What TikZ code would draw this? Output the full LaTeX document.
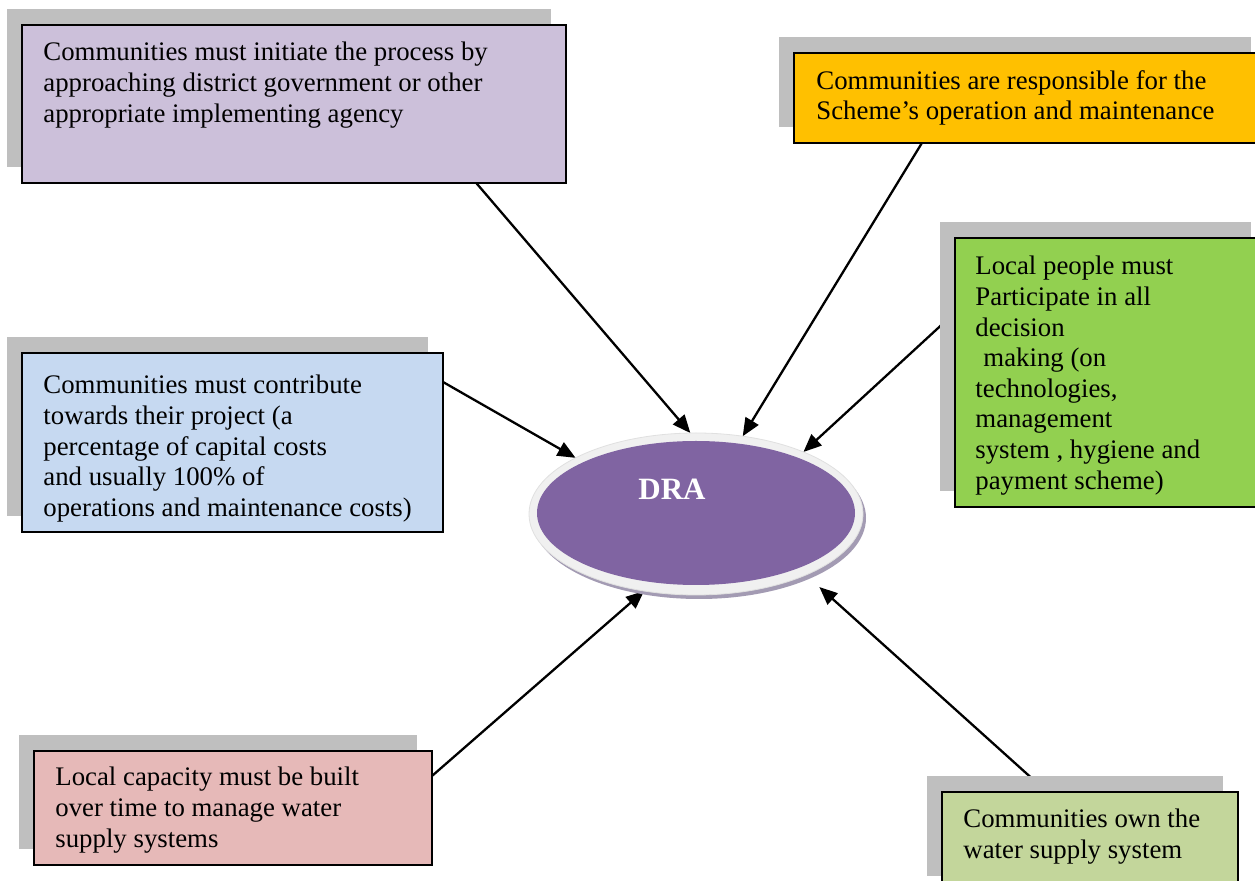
\documentclass[tikz,border=0pt]{standalone}
\usepackage{fontspec}
\setmainfont{Liberation Serif}
\usetikzlibrary{shapes.geometric,shadows,arrows.meta,calc}
\pgfdeclarelayer{background}
\pgfsetlayers{background,main}
\definecolor{cpurple}{HTML}{CCC0DA}
\definecolor{corange}{HTML}{FFC000}
\definecolor{cgreen}{HTML}{92D050}
\definecolor{cblue}{HTML}{C6D9F1}
\definecolor{cpink}{HTML}{E6B9B8}
\definecolor{colive}{HTML}{C3D69B}
\definecolor{shadowgray}{HTML}{BFBFBF}
\definecolor{draviolet}{HTML}{8064A2}
\definecolor{ringgray}{HTML}{F0F0F0}
\definecolor{ringshadow}{HTML}{A39BB3}
\begin{document}
\begin{tikzpicture}[x=0.5pt,y=-0.5pt,
  box/.style={draw=black, line width=0.75pt, rectangle, inner sep=0pt, outer sep=0pt, anchor=north west,
     drop shadow={shadow xshift=-7.5pt, shadow yshift=8pt, fill=shadowgray, opacity=1}},
  txt/.style={anchor=north west, inner sep=0pt, align=left, font=\fontsize{13.4pt}{15.3pt}\selectfont},
  conn/.style={line width=1.15pt, -{Triangle[length=9pt,width=7.5pt]}}]
\useasboundingbox (0,0) rectangle (1255,881);
\clip (0,0) rectangle (1255,881);
% boxes
\node[box, fill=cpurple, minimum width=272pt, minimum height=79pt] (b1) at (22,25) {};
\node[box, fill=corange, minimum width=236pt, minimum height=45pt] (b2) at (794,53) {};
\node[box, fill=cgreen, minimum width=155.5pt, minimum height=134.5pt] (b3) at (955,238) {};
\node[box, fill=cblue, minimum width=210.5pt, minimum height=89.5pt] (b4) at (22,353) {};
\node[box, fill=cpink, minimum width=199pt, minimum height=57pt] (b5) at (34,751) {};
\node[box, fill=colive, minimum width=148pt, minimum height=50pt] (b6) at (942,792) {};
% texts
\node[txt] (t1) at (43,42) {Communities must initiate the process by\\approaching district government or other\\appropriate implementing agency};
\node[txt] (t2) at (816,70) {Communities are responsible for the\\Scheme’s operation and maintenance};
\node[txt] (t3) at (975,256) {Local people must\\Participate in all\\decision\\\hspace*{4pt}making (on\\technologies,\\management\\system , hygiene and\\payment scheme)};
\node[txt] (t4) at (43,375) {Communities must contribute\\towards their project (a\\percentage of capital costs\\and usually 100\% of\\operations and maintenance costs)};
\node[txt] (t5) at (55,767) {Local capacity must be built\\over time to manage water\\supply systems};
\node[txt] (t6) at (963,809) {Communities own the\\water supply system};
% central ellipse
\fill[ringshadow] (699,518) ellipse [x radius=167, y radius=81];
\node[ellipse, fill=ringgray, draw=black!12, line width=0.4pt, minimum width=167pt, minimum height=81pt, inner sep=0pt, outer sep=0pt] (ring) at (696,514) {};
\node[ellipse, fill=draviolet, minimum width=159pt, minimum height=72pt, inner sep=0pt, outer sep=0pt] (dra) at (696,513) {};
\node[anchor=base west, inner sep=0pt, text=white, font=\fontsize{15.5pt}{18pt}\selectfont\bfseries] (tdra) at (638,500) {DRA};
% connectors
\begin{pgfonlayer}{background}
\fill[white] (0,0) rectangle (1255,881);
\draw[conn] ($(b1.south west)!0.835!(b1.south east)$) -- (ring.94);
\draw[conn] ($(b2.south west)!0.271!(b2.south east)$) -- (ring.59);
\draw[conn] ($(b3.north west)!0.277!(b3.south west)$) -- (ring.30);
\draw[conn] ($(b4.north east)!0.162!(b4.south east)$) -- (ring.155);
\draw[conn] ($(b5.north east)!0.219!(b5.south east)$) -- (ring.236);
\draw[conn, shorten >=9pt] ($(b6.north west)!0.355!(b6.north east)$) -- (ring.331);
\end{pgfonlayer}
\end{tikzpicture}
\end{document}
